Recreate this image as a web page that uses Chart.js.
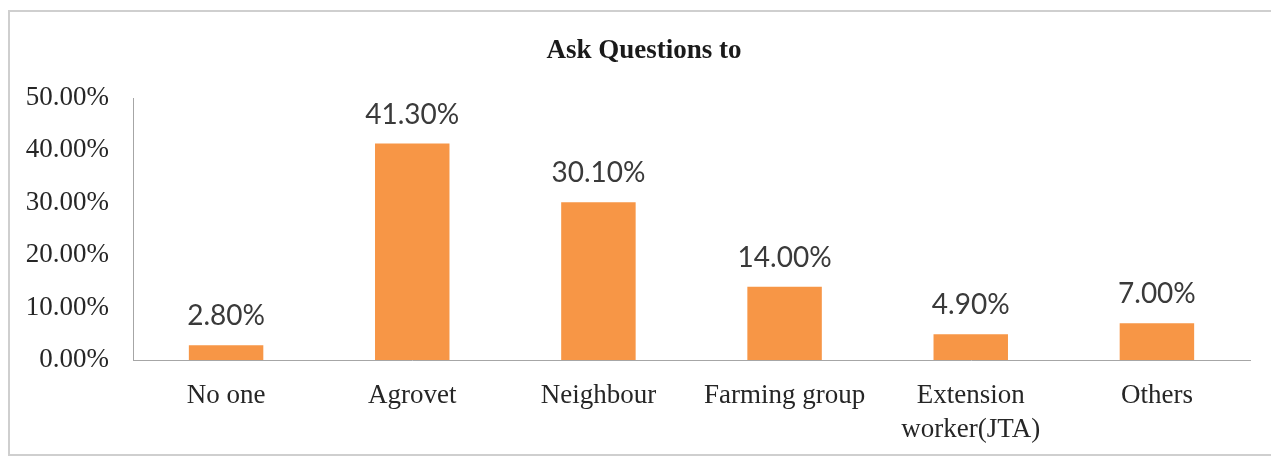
<!DOCTYPE html>
<html>
<head>
<meta charset="utf-8">
<script src="https://cdn.jsdelivr.net/npm/chart.js@4.4.0/dist/chart.umd.min.js"></script>
<style>
  html, body { margin: 0; padding: 0; background: #fff; }
  #wrap { width: 1271px; height: 457px; position: relative; }
</style>
</head>
<body>
<div id="wrap"><canvas id="myChart" width="1271" height="457"></canvas></div>
<script>
var categories = ["No one", "Agrovet", "Neighbour", "Farming group", ["Extension", "worker(JTA)"], "Others"];
var percentages = [2.8, 41.3, 30.1, 14.0, 4.9, 7.0];
var yTicks = [0, 10, 20, 30, 40, 50];

function pct(v) {
  return v.toFixed(2) + "%";
}

// frame around the whole figure plus the heading
var framePlugin = {
  id: "frame",
  beforeDraw: function(chart) {
    var ctx = chart.ctx;
    ctx.save();
    ctx.fillStyle = "#ffffff";
    ctx.fillRect(0, 0, chart.width, chart.height);
    ctx.strokeStyle = "#cfcfcf";
    ctx.lineWidth = 2;
    ctx.strokeRect(9, 11, 1320, 444);
    ctx.fillStyle = "#1a1a1a";
    ctx.font = "bold 27px 'Liberation Serif'";
    ctx.textAlign = "center";
    ctx.textBaseline = "alphabetic";
    ctx.fillText("Ask Questions to", 644, 58);
    ctx.restore();
  }
};

// value labels above each bar
var valueLabels = {
  id: "valueLabels",
  afterDatasetsDraw: function(chart) {
    var ctx = chart.ctx;
    var meta = chart.getDatasetMeta(0);
    ctx.save();
    ctx.fillStyle = "#3a3a3a";
    ctx.font = "28px Lato";
    ctx.textAlign = "center";
    ctx.textBaseline = "alphabetic";
    meta.data.forEach(function(bar, i) {
      ctx.fillText(pct(percentages[i]), bar.x, bar.y - 20);
    });
    ctx.restore();
  }
};

function getChart() {
  var ctx = document.getElementById("myChart").getContext("2d");
  var chart = new Chart(ctx, {
    type: "bar",
    data: {
      labels: categories,
      datasets: [{
        data: percentages,
        backgroundColor: "#f79646",
        borderWidth: 0,
        barPercentage: 0.4,
        categoryPercentage: 1.0
      }]
    },
    options: {
      responsive: false,
      animation: false,
      layout: { padding: { top: 98, right: 21, left: 0, bottom: 0 } },
      plugins: {
        legend: { display: false },
        title: { display: false },
        tooltip: { enabled: false }
      },
      scales: {
        x: {
          grid: { display: false },
          border: { display: true, color: "#a6a6a6", width: 1 },
          ticks: {
            color: "#262626",
            font: { family: "'Liberation Serif'", size: 27, lineHeight: 1.26 },
            padding: 11,
            maxRotation: 0,
            autoSkip: false
          },
          afterFit: function(scale) { scale.height = 97; }
        },
        y: {
          min: 0,
          max: 50,
          afterBuildTicks: function(scale) {
            scale.ticks = yTicks.map(function(v) { return { value: v }; });
          },
          grid: { display: false },
          border: { display: true, color: "#a6a6a6", width: 1 },
          ticks: {
            color: "#262626",
            font: { family: "'Liberation Serif'", size: 27 },
            padding: 16,
            callback: function(v) { return pct(v); }
          },
          afterFit: function(scale) { scale.width = 133; }
        }
      }
    },
    plugins: [framePlugin, valueLabels]
  });
}

getChart();
</script>
</body>
</html>
